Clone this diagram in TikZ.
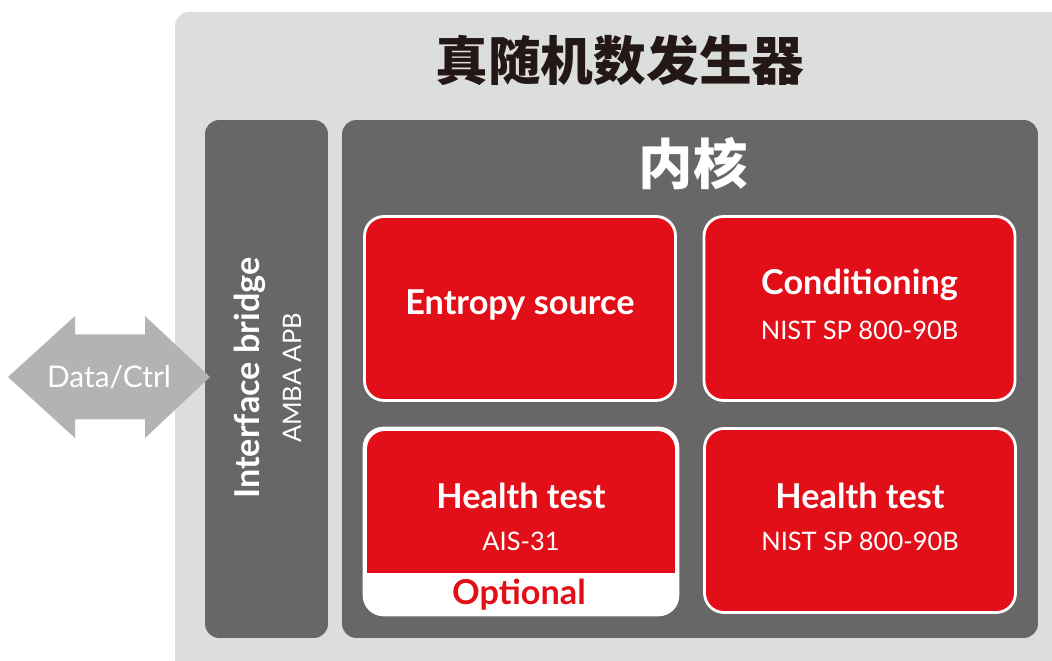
\documentclass[tikz,border=0pt]{standalone}
\usepackage{fontspec}
\setmainfont{Lato}
\newfontfamily\cjk{Noto Sans CJK SC}
\usetikzlibrary{calc,positioning}
\definecolor{panelgray}{HTML}{DCDDDD}
\definecolor{coregray}{HTML}{666766}
\definecolor{trngred}{HTML}{E30F18}
\definecolor{arrowgray}{HTML}{B3B3B3}
\definecolor{titleink}{HTML}{231815}

\begin{document}
\begin{tikzpicture}[
  x=0.02cm,y=0.02cm,
  darkbox/.style={fill=coregray,rounded corners=8pt,inner sep=0pt},
  redbox/.style={fill=trngred,draw=white,line width=1.6pt,rounded corners=11pt,
    minimum width=6.22cm,minimum height=3.68cm,inner sep=0pt},
  head/.style={text=white,font=\fontsize{19.5}{22}\selectfont\bfseries},
  sub/.style={text=white,font=\fontsize{14.5}{17}\selectfont}
]
\useasboundingbox (0,0) rectangle (1052,661);
\clip (0,0) rectangle (1052,661);
% light panel and title
\fill[panelgray,rounded corners=8pt] (175,-30) rectangle (1090,649);
\node[font=\cjk\fontsize{30}{36}\selectfont\bfseries,text=titleink] (title) at (620,601) {真随机数发生器};
% interface bridge and core
\node[darkbox,minimum width=2.46cm,minimum height=10.36cm] (bridge) at (266.5,282) {};
\node[darkbox,minimum width=13.92cm,minimum height=10.36cm] (core) at (690,282) {};
\node[font=\cjk\fontsize{31}{36}\selectfont\bfseries,text=white] (coretitle) at (693,497) {内核};
\node[head,rotate=90] (bridgename) at (250,283) {Interface bridge};
\node[sub,rotate=90] (bridgebus) at (292,283) {AMBA APB};
% red blocks
\node[redbox] (src) at (520,352.5) {};
\node[redbox] (cond) at (859.5,352.5) {};
\node[redbox] (ais) at (521,139.5) {};
\node[redbox] (nist) at (860,140.5) {};
% lower part of the AIS-31 block is white
\begin{scope}
  \clip[rounded corners=11pt] (ais.south west) rectangle (ais.north east);
  \fill[white] ($(ais.south west)+(-5,-5)$) rectangle ($(ais.east)+(5,-51.5)$);
\end{scope}
\draw[white,line width=1.6pt,rounded corners=11pt] (ais.south west) rectangle (ais.north east);
\node[head] at ($(src.center)+(0,3.5)$) {Entropy source};
\node[head] at ($(cond.center)+(0,23.5)$) {Conditioning};
\node[sub] at ($(cond.center)+(0,-21.5)$) {NIST SP 800-90B};
\node[head] at ($(ais.center)+(0,25.5)$) {Health test};
\node[sub] at ($(ais.center)+(0,-19.5)$) {AIS-31};
\node[head,text=trngred] (opt) at ($(ais.center)+(-2,-73.5)$) {Optional};
\node[head] at ($(nist.center)+(0,24.5)$) {Health test};
\node[sub] at ($(nist.center)+(0,-20.5)$) {NIST SP 800-90B};
% Data/Ctrl double arrow
\coordinate (lt) at (8,284);
\coordinate (rt) at (210,284);
\fill[arrowgray] (lt) -- (75,345) -- (75,326.5) -- (145,326.5) -- (145,345) -- (rt)
  -- (145,223) -- (145,241.5) -- (75,241.5) -- (75,223) -- cycle;
\node[sub,font=\fontsize{17}{20}\selectfont] (bus) at ($(lt)!0.5!(rt)$) {Data/Ctrl};
\end{tikzpicture}
\end{document}
